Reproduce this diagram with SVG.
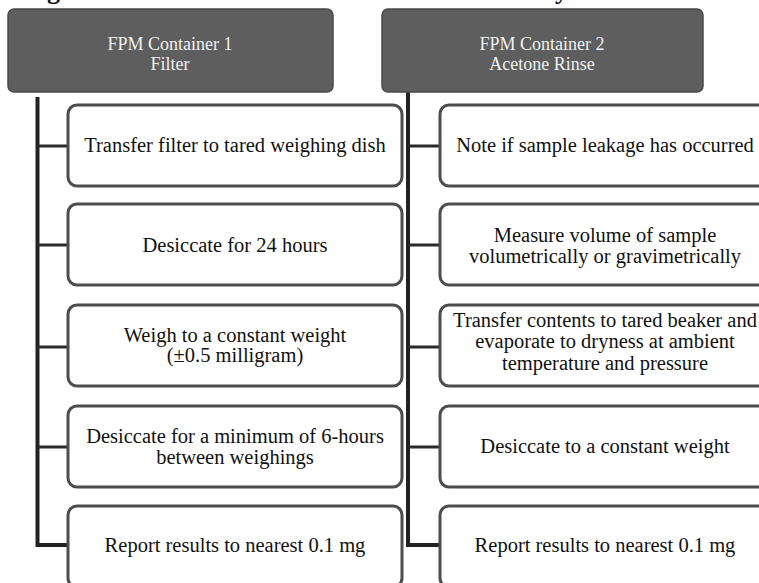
<svg xmlns="http://www.w3.org/2000/svg" width="759" height="583" viewBox="0 0 759 583" font-family="Liberation Serif, Times New Roman, serif">
  <style>
    .hdr { fill: #5e5e5e; stroke: #4a4a4a; stroke-width: 1.5; }
    .hdr-t { font-family: 'Liberation Serif', serif; font-size: 18px; fill: #f0f0f0; text-anchor: middle; }
    .box { fill: #ffffff; stroke: #4d4d4d; stroke-width: 3; }
    .t { font-family: 'Liberation Serif', serif; font-size: 20.5px; fill: #111; text-anchor: middle; }
    .spine { fill: none; stroke: #222; stroke-width: 4; }
    .conn { fill: none; stroke: #2a2a2a; stroke-width: 3; }
    .ttl { font-family: 'Liberation Serif', serif; font-size: 26px; font-weight: bold; fill: #111; }
  </style>

  <!-- cut-off title fragments -->
  <text class="ttl" x="47" y="-1">g</text>
  <text class="ttl" x="555" y="-1">y</text>

  <g id="connectors">
    <path class="spine" d="M37.5,97 V545 H68"/>
    <path class="conn" d="M37.5,146 H68 M37.5,245 H68 M37.5,347 H68 M37.5,447 H68"/>
    <path class="spine" d="M408,88 V545 H440"/>
    <path class="conn" d="M408,146 H440 M408,245 H440 M408,347 H440 M408,447 H440"/>
  </g>

  <g id="header1">
    <rect class="hdr" x="8" y="9" width="325" height="83" rx="6"/>
    <text class="hdr-t" x="170" y="50">FPM Container 1</text>
    <text class="hdr-t" x="170" y="70">Filter</text>
  </g>
  <g id="header2">
    <rect class="hdr" x="382" y="9" width="321" height="83" rx="6"/>
    <text class="hdr-t" x="542" y="50">FPM Container 2</text>
    <text class="hdr-t" x="542" y="70">Acetone Rinse</text>
  </g>

  <g id="l1">
    <rect class="box" x="68" y="105" width="334" height="81" rx="9"/>
    <text class="t" x="235" y="152">Transfer filter to tared weighing dish</text>
  </g>
  <g id="l2">
    <rect class="box" x="68" y="204" width="334" height="81" rx="9"/>
    <text class="t" x="235" y="252">Desiccate for 24 hours</text>
  </g>
  <g id="l3">
    <rect class="box" x="68" y="305" width="334" height="81" rx="9"/>
    <text class="t" x="235" y="342">Weigh to a constant weight</text>
    <text class="t" x="235" y="362">(±0.5 milligram)</text>
  </g>
  <g id="l4">
    <rect class="box" x="68" y="406" width="334" height="81" rx="9"/>
    <text class="t" x="235" y="443">Desiccate for a minimum of 6-hours</text>
    <text class="t" x="235" y="464">between weighings</text>
  </g>
  <g id="l5">
    <rect class="box" x="68" y="506" width="334" height="81" rx="9"/>
    <text class="t" x="235" y="552">Report results to nearest 0.1 mg</text>
  </g>

  <g id="r1">
    <rect class="box" x="440" y="105" width="334" height="81" rx="9"/>
    <text class="t" x="605" y="152">Note if sample leakage has occurred</text>
  </g>
  <g id="r2">
    <rect class="box" x="440" y="204" width="334" height="81" rx="9"/>
    <text class="t" x="605" y="242">Measure volume of sample</text>
    <text class="t" x="605" y="263">volumetrically or gravimetrically</text>
  </g>
  <g id="r3">
    <rect class="box" x="440" y="305" width="334" height="81" rx="9"/>
    <text class="t" x="605" y="327">Transfer contents to tared beaker and</text>
    <text class="t" x="605" y="348">evaporate to dryness at ambient</text>
    <text class="t" x="605" y="370">temperature and pressure</text>
  </g>
  <g id="r4">
    <rect class="box" x="440" y="406" width="334" height="81" rx="9"/>
    <text class="t" x="605" y="453">Desiccate to a constant weight</text>
  </g>
  <g id="r5">
    <rect class="box" x="440" y="506" width="334" height="81" rx="9"/>
    <text class="t" x="605" y="552">Report results to nearest 0.1 mg</text>
  </g>
</svg>
